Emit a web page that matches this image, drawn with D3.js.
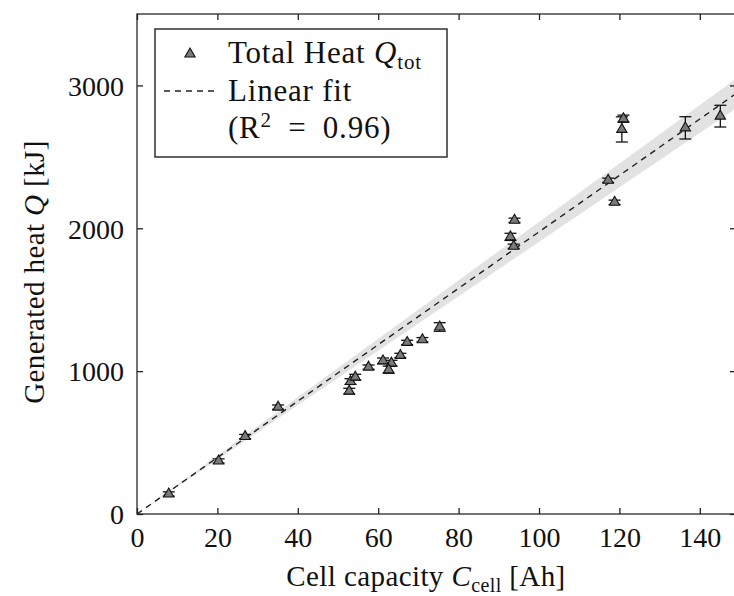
<!DOCTYPE html>
<html><head><meta charset="utf-8">
<script src="https://cdn.jsdelivr.net/npm/d3@7"></script>
<style>body{margin:0;background:#fff}svg{display:block}text{font-family:"Liberation Serif","DejaVu Serif",serif;fill:#111}</style>
</head><body><svg id="c" width="734" height="596"></svg>
<script>
const capacity = [7.9, 20.3, 26.9, 35.1, 52.8, 53.1, 54.3, 57.6, 61.2, 63.3, 62.6, 65.5, 67.2, 71.0, 75.3, 93.9, 92.9, 93.7, 117.2, 118.8, 120.6, 121.0, 136.4, 145.1];
const heat     = [140, 371, 542, 748, 860, 927, 958, 1028, 1072, 1056, 1010, 1110, 1201, 1220, 1309, 2056, 1940, 1874, 2336, 2182, 2692, 2767, 2703, 2785];
const heatErr  = [15, 15, 15, 15, 20, 20, 20, 15, 20, 20, 25, 15, 15, 15, 30, 15, 25, 15, 15, 15, 88, 25, 78, 76];
const fitSlope = 19.75;
const fitSlopeCI = 0.7;
const xTicks = [0, 20, 40, 60, 80, 100, 120, 140];
const yTicks = [0, 1000, 2000, 3000];

const svg = d3.select("#c");
const L = 137, R = 736, T = 14, B = 514;
const x = d3.scaleLinear().domain([0, 149]).range([L, R]);
const y = d3.scaleLinear().domain([0, 3500]).range([B, T]);

svg.append("defs").append("clipPath").attr("id","clip")
  .append("rect").attr("x",L).attr("y",T).attr("width",R-L).attr("height",B-T);
const plot = svg.append("g").attr("clip-path","url(#clip)");

// confidence band
const xs = [0, 149];
plot.append("path")
  .attr("d", d3.area().x(d=>x(d)).y0(d=>y(d*(fitSlope-fitSlopeCI))).y1(d=>y(d*(fitSlope+fitSlopeCI)))(xs))
  .attr("fill","#e2e2e2");
plot.append("path")
  .attr("d", d3.line().x(d=>x(d)).y(d=>y(d*fitSlope))(xs))
  .attr("stroke","#222").attr("stroke-width",1.4).attr("stroke-dasharray","6,5").attr("fill","none");

// error bars + markers
const pts = capacity.map((c,i)=>({c, q:heat[i], e:heatErr[i]}));
const eg = plot.append("g").attr("stroke","#111").attr("stroke-width",1.3);
pts.forEach(p=>{
  const cx = x(p.c), y1 = y(p.q+p.e), y2 = y(p.q-p.e);
  eg.append("line").attr("x1",cx).attr("x2",cx).attr("y1",y1).attr("y2",y2);
  eg.append("line").attr("x1",cx-6).attr("x2",cx+6).attr("y1",y1).attr("y2",y1);
  eg.append("line").attr("x1",cx-6).attr("x2",cx+6).attr("y1",y2).attr("y2",y2);
});
const tri = d3.symbol().type(d3.symbolTriangle).size(46);
plot.append("g").selectAll("path").data(pts).join("path")
  .attr("d", tri).attr("transform", d=>`translate(${x(d.c)},${y(d.q)})`)
  .attr("fill","#7a7a7a").attr("stroke","#111").attr("stroke-width",1.1);

// frame
svg.append("rect").attr("x",L).attr("y",T).attr("width",R-L).attr("height",B-T)
  .attr("fill","none").attr("stroke","#444").attr("stroke-width",1.5);

// axes (inward ticks)
const xb = svg.append("g").attr("transform",`translate(0,${B})`)
  .call(d3.axisBottom(x).tickValues(xTicks).tickSize(-6).tickPadding(13).tickFormat(d3.format("d")));
const xt = svg.append("g").attr("transform",`translate(0,${T})`)
  .call(d3.axisTop(x).tickValues(xTicks).tickSize(-6).tickFormat(""));
const yl = svg.append("g").attr("transform",`translate(${L},0)`)
  .call(d3.axisLeft(y).tickValues(yTicks).tickSize(-6).tickPadding(13).tickFormat(d3.format("d")));
const yr = svg.append("g").attr("transform",`translate(${R},0)`)
  .call(d3.axisRight(y).tickValues(yTicks).tickSize(-6).tickFormat(""));
[xb,xt,yl,yr].forEach(g=>{
  g.select(".domain").remove();
  g.selectAll(".tick line").attr("stroke","#222").attr("stroke-width",1.3);
  g.selectAll(".tick text").style("font-size","28px").attr("fill","#111");
});
xb.selectAll(".tick text").attr("dy","0.72em");
yl.selectAll(".tick text").attr("dy","0.35em");

// axis titles
const xtitle = svg.append("text").attr("x",426).attr("y",586).attr("text-anchor","middle")
  .style("font-size","29px").style("letter-spacing","0.4px");
xtitle.append("tspan").text("Cell capacity ");
xtitle.append("tspan").style("font-style","italic").text("C");
xtitle.append("tspan").attr("dy",6).style("font-size","20px").text("cell");
xtitle.append("tspan").attr("dy",-6).text(" [Ah]");

const ytitle = svg.append("text").attr("transform","translate(44,272) rotate(-90)").attr("text-anchor","middle")
  .style("font-size","29px").style("letter-spacing","0.4px");
ytitle.append("tspan").text("Generated heat ");
ytitle.append("tspan").style("font-style","italic").text("Q");
ytitle.append("tspan").text(" [kJ]");

// legend
const lg = svg.append("g");
lg.append("rect").attr("x",155).attr("y",29).attr("width",292).attr("height",128)
  .attr("fill","#fff").attr("stroke","#222").attr("stroke-width",1.4);
lg.append("path").attr("d",d3.symbol().type(d3.symbolTriangle).size(46)())
  .attr("transform","translate(190,54)").attr("fill","#7a7a7a").attr("stroke","#111").attr("stroke-width",1.1);
lg.append("line").attr("x1",164).attr("x2",214).attr("y1",91).attr("y2",91)
  .attr("stroke","#222").attr("stroke-width",1.4).attr("stroke-dasharray","6,5");
const t1 = lg.append("text").attr("x",228).attr("y",63).style("font-size","31px").style("letter-spacing","0.8px");
t1.append("tspan").text("Total Heat ");
t1.append("tspan").style("font-style","italic").text("Q");
t1.append("tspan").attr("dy",6).style("font-size","21px").text("tot");
lg.append("text").attr("x",228).attr("y",101).style("font-size","31px").style("letter-spacing","0.8px").text("Linear fit");
const t3 = lg.append("text").attr("x",228).attr("y",138).style("font-size","31px").style("letter-spacing","0.8px");
t3.append("tspan").text("(R");
t3.append("tspan").attr("dy",-11).style("font-size","21px").text("2");
t3.append("tspan").attr("dy",11).text("\u2002=\u20020.96)");
</script></body></html>
